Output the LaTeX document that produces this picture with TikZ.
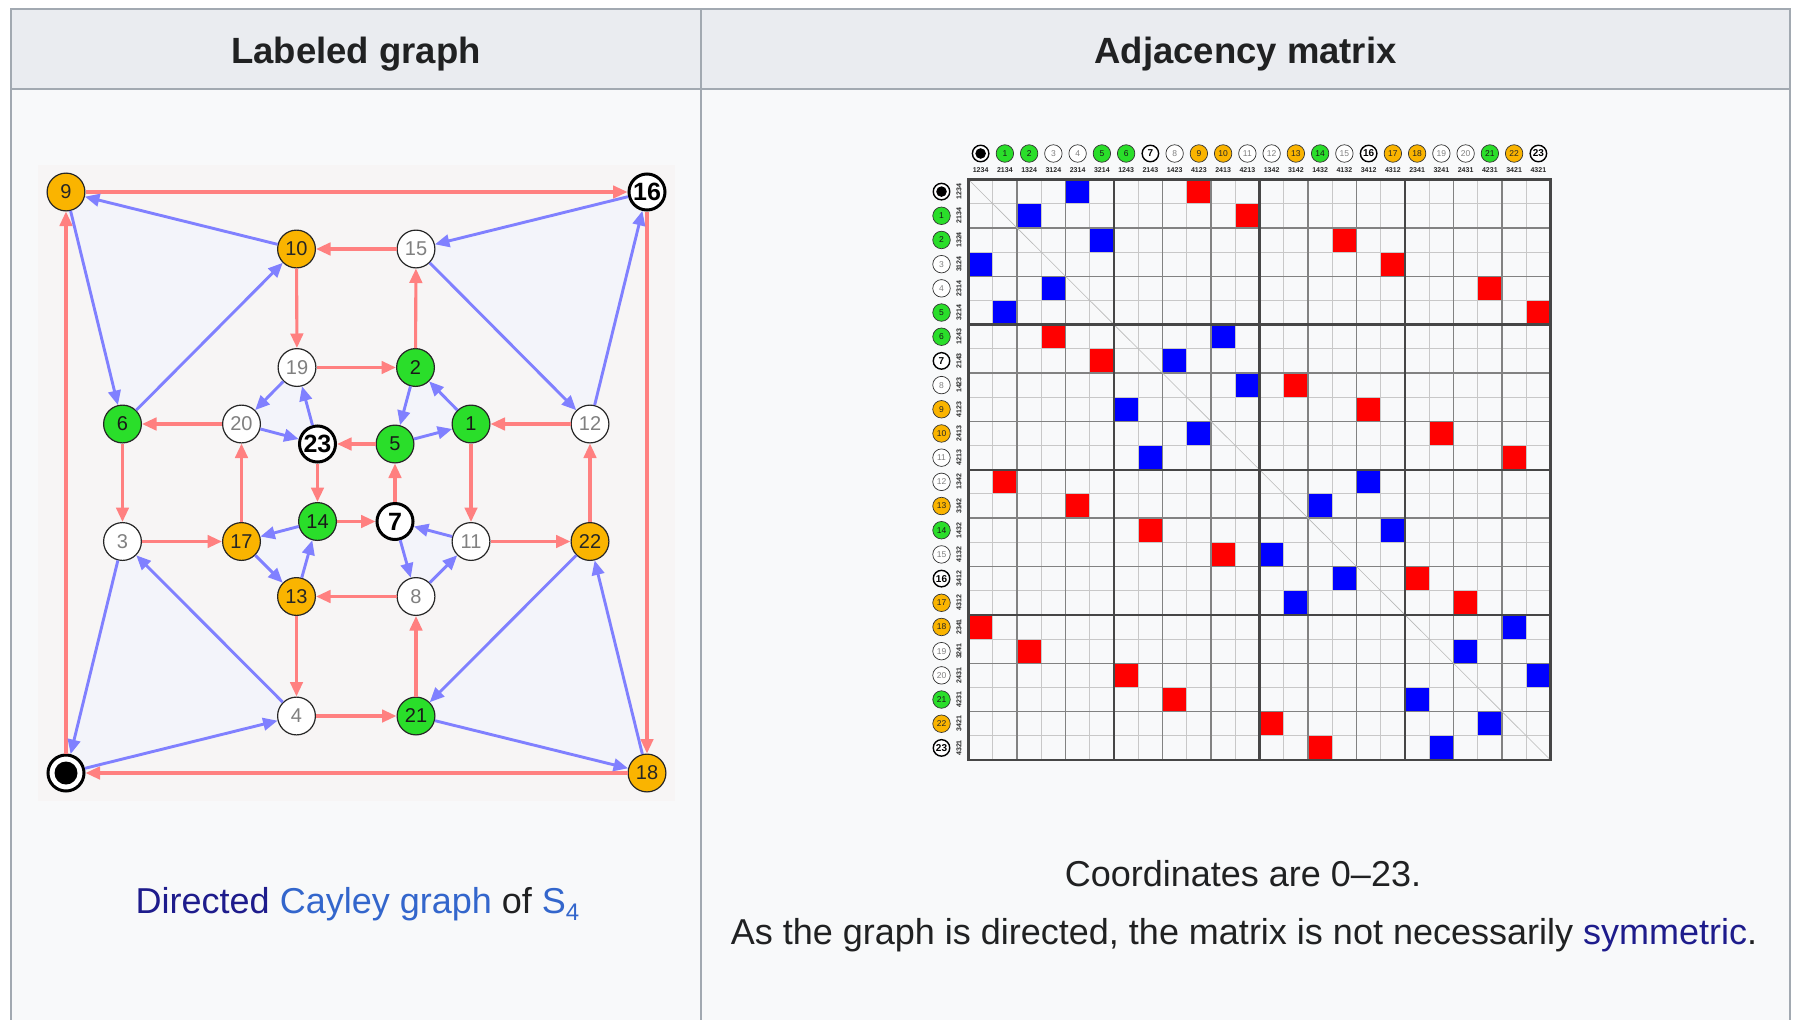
\documentclass[tikz,border=0pt]{standalone}
\usepackage{fontspec}
\setmainfont{Liberation Sans}
\usetikzlibrary{arrows.meta}
\definecolor{hdrbg}{HTML}{EAECF0}
\definecolor{bodybg}{HTML}{F8F9FA}
\definecolor{tblborder}{HTML}{A2A9B1}
\definecolor{graphbg}{RGB}{247,245,245}
\definecolor{trifill}{RGB}{243,244,250}
\definecolor{redE}{RGB}{255,128,128}
\definecolor{blueE}{RGB}{128,128,255}
\definecolor{orangeN}{RGB}{250,180,0}
\definecolor{greenN}{RGB}{42,222,42}
\definecolor{txt}{HTML}{202122}
\definecolor{linkA}{HTML}{3366CC}
\definecolor{linkV}{RGB}{30,28,140}
\definecolor{cellR}{RGB}{255,0,0}
\definecolor{cellB}{RGB}{0,0,255}
\definecolor{gridL}{RGB}{200,200,200}
\definecolor{gridM}{RGB}{130,130,130}
\definecolor{gridT}{RGB}{70,70,70}
\tikzset{
  vtx/.style={circle, draw=black!85, line width=1.2pt, minimum size=37.8pt, inner sep=0pt, font=\fontsize{20}{20}\selectfont},
  Vor/.style={vtx, fill=orangeN, text=black!85},
  Vgr/.style={vtx, fill=greenN, text=black!90},
  Vwh/.style={vtx, fill=white, text=black!50},
  Vbk/.style={vtx, fill=white, draw=black, line width=3pt, minimum size=36pt, font=\fontsize{25}{25}\bfseries\selectfont, text=black},
  Vbull/.style={vtx, fill=white, draw=black, line width=3pt, minimum size=36pt, path picture={\fill[black] (path picture bounding box.center) circle (11.5pt);}},
  svtx/.style={circle, draw=black!80, line width=0.7pt, minimum size=17.5pt, inner sep=0pt, font=\fontsize{8.5}{8.5}\selectfont},
  Sor/.style={svtx, fill=orangeN, text=black!85},
  Sgr/.style={svtx, fill=greenN, text=black!90},
  Swh/.style={svtx, fill=white, text=black!50},
  Sbk/.style={svtx, fill=white, draw=black, line width=1.4pt, minimum size=16.5pt, font=\fontsize{10}{10}\bfseries\selectfont, text=black},
  Sbull/.style={svtx, fill=white, draw=black, line width=1.4pt, minimum size=16.5pt, path picture={\fill[black] (path picture bounding box.center) circle (5.3pt);}},
  perm/.style={inner sep=0pt, font=\fontsize{7}{7}\bfseries\selectfont, text=black!85},
  redarr/.style={draw=redE, line width=3.1pt, -{Triangle[length=14.5pt,width=12.5pt]}},
  bluearr/.style={draw=blueE, line width=2.9pt, -{Triangle[length=14.5pt,width=12.5pt]}},
  hdrtext/.style={anchor=base, inner sep=0pt, text=txt, font=\fontsize{36.5}{43}\bfseries\selectfont},
  captext/.style={anchor=base, inner sep=0pt, text=txt, font=\fontsize{36}{43}\selectfont},
}
\newcommand{\mxlabel}[4]{%
  \pgfmathsetmacro\mxcx{968.5+24.25*(#1+0.5)}%
  \pgfmathsetmacro\mxcy{179.5+24.1875*(#1+0.5)}%
  \node[#2] (h#1) at (\mxcx,153.5) {#3};
  \node[perm] (hp#1) at (\mxcx,170) {#4};
  \node[#2] (r#1) at (941.5,\mxcy) {#3};
  \node[perm, rotate=90] (rp#1) at (959,\mxcy) {#4};
}
\begin{document}
\begin{tikzpicture}[x=1pt,y=-1pt]
\useasboundingbox (0,0) rectangle (1794,1020);
\fill[white] (0,0) rectangle (1794,1020);
% table
\fill[bodybg] (11,9) rectangle (1790,1020);
\fill[hdrbg] (11,9) rectangle (1790,89);
\draw[tblborder, line width=1.5pt] (11,1020) -- (11,9) -- (1790,9) -- (1790,1020);
\draw[tblborder, line width=2pt] (11,89) -- (1790,89);
\draw[tblborder, line width=1.5pt] (701,9) -- (701,1020);
\node[hdrtext] (th1) at (356,63) {Labeled graph};
\node[hdrtext] (th2) at (1245.5,63) {Adjacency matrix};
% captions
\node[captext] (cap1) at (357.5,913) {\color{linkV}Directed \color{linkA}Cayley graph \color{txt}of \color{linkA}S\raisebox{-7pt}{\fontsize{24}{24}\selectfont 4}};
\node[captext] (cap2) at (1243,886) {Coordinates are 0–23.};
\node[captext] (cap3) at (1244,944) {As the graph is directed, the matrix is not necessarily \color{linkV}symmetric\color{txt}.};
% graph
\fill[graphbg] (38,165) rectangle (675,801);
\coordinate (p0) at (66,773);
\coordinate (p9) at (66,192);
\coordinate (p16) at (647,192);
\coordinate (p18) at (647,773);
\coordinate (p10) at (296.5,249);
\coordinate (p15) at (416,249);
\coordinate (p4) at (296.5,716);
\coordinate (p21) at (416,716);
\coordinate (p6) at (122.5,424);
\coordinate (p3) at (122.5,541.5);
\coordinate (p12) at (590,424);
\coordinate (p22) at (590,541.5);
\coordinate (p19) at (297,367.5);
\coordinate (p2) at (415.5,367.5);
\coordinate (p13) at (296.5,596.5);
\coordinate (p8) at (416,596.5);
\coordinate (p20) at (241.5,424);
\coordinate (p1) at (471,424);
\coordinate (p17) at (241.5,541.5);
\coordinate (p11) at (471,541.5);
\coordinate (p23) at (317.5,444);
\coordinate (p5) at (395,444);
\coordinate (p14) at (317.5,521.5);
\coordinate (p7) at (395,521.5);
\foreach \a/\b/\c in {9/6/10,16/15/12,0/4/3,18/22/21,19/20/23,2/5/1,17/13/14,7/8/11}
  \fill[trifill] (p\a) -- (p\b) -- (p\c) -- cycle;
\node[Vbull] (n0) at (p0) {};
\node[Vgr] (n1) at (p1) {1};
\node[Vgr] (n2) at (p2) {2};
\node[Vwh] (n3) at (p3) {3};
\node[Vwh] (n4) at (p4) {4};
\node[Vgr] (n5) at (p5) {5};
\node[Vgr] (n6) at (p6) {6};
\node[Vbk] (n7) at (p7) {7};
\node[Vwh] (n8) at (p8) {8};
\node[Vor] (n9) at (p9) {9};
\node[Vor] (n10) at (p10) {10};
\node[Vwh] (n11) at (p11) {11};
\node[Vwh] (n12) at (p12) {12};
\node[Vor] (n13) at (p13) {13};
\node[Vgr] (n14) at (p14) {14};
\node[Vwh] (n15) at (p15) {15};
\node[Vbk] (n16) at (p16) {16};
\node[Vor] (n17) at (p17) {17};
\node[Vor] (n18) at (p18) {18};
\node[Vwh] (n19) at (p19) {19};
\node[Vwh] (n20) at (p20) {20};
\node[Vgr] (n21) at (p21) {21};
\node[Vor] (n22) at (p22) {22};
\node[Vbk] (n23) at (p23) {23};
\foreach \a/\b in {0/9,1/11,2/15,3/17,4/21,5/23,6/3,7/5,8/13,9/16,10/19,11/22,12/1,13/4,14/7,15/10,16/18,17/20,18/0,19/2,20/6,21/8,22/12,23/14}
  \draw[redarr] (n\a) -- (n\b);
\foreach \a/\b in {0/4,1/2,2/5,3/0,4/3,5/1,6/10,7/8,8/11,9/6,10/9,11/7,12/16,13/14,14/17,15/12,16/15,17/13,18/22,19/20,20/23,21/18,22/21,23/19}
  \draw[bluearr] (n\a) -- (n\b);
% matrix cells
\foreach \a/\b in {0/9,1/11,2/15,3/17,4/21,5/23,6/3,7/5,8/13,9/16,10/19,11/22,12/1,13/4,14/7,15/10,16/18,17/20,18/0,19/2,20/6,21/8,22/12,23/14}
  \fill[cellR] ({968.5+24.25*\b},{179.5+24.1875*\a}) rectangle +(24.25,24.1875);
\foreach \a/\b in {0/4,1/2,2/5,3/0,4/3,5/1,6/10,7/8,8/11,9/6,10/9,11/7,12/16,13/14,14/17,15/12,16/15,17/13,18/22,19/20,20/23,21/18,22/21,23/19}
  \fill[cellB] ({968.5+24.25*\b},{179.5+24.1875*\a}) rectangle +(24.25,24.1875);
% grid
\foreach \k in {1,3,...,23} {
  \draw[gridL, line width=0.9pt] ({968.5+24.25*\k},179.5) -- ({968.5+24.25*\k},760);
  \draw[gridL, line width=0.9pt] (968.5,{179.5+24.1875*\k}) -- (1550.5,{179.5+24.1875*\k});
}
\foreach \k in {2,4,8,10,14,16,20,22} {
  \draw[gridM, line width=1.3pt] ({968.5+24.25*\k},179.5) -- ({968.5+24.25*\k},760);
  \draw[gridM, line width=1.3pt] (968.5,{179.5+24.1875*\k}) -- (1550.5,{179.5+24.1875*\k});
}
\draw[gray!55, line width=0.6pt] (968.5,179.5) -- (1550.5,760);
\foreach \k in {6,12,18} {
  \draw[gridT, line width=2.3pt] ({968.5+24.25*\k},179.5) -- ({968.5+24.25*\k},760);
  \draw[gridT, line width=2.3pt] (968.5,{179.5+24.1875*\k}) -- (1550.5,{179.5+24.1875*\k});
}
\draw[gridT, line width=2.3pt] (968.5,179.5) rectangle (1550.5,760);
% matrix labels
\mxlabel{0}{Sbull}{}{1234}
\mxlabel{1}{Sgr}{1}{2134}
\mxlabel{2}{Sgr}{2}{1324}
\mxlabel{3}{Swh}{3}{3124}
\mxlabel{4}{Swh}{4}{2314}
\mxlabel{5}{Sgr}{5}{3214}
\mxlabel{6}{Sgr}{6}{1243}
\mxlabel{7}{Sbk}{7}{2143}
\mxlabel{8}{Swh}{8}{1423}
\mxlabel{9}{Sor}{9}{4123}
\mxlabel{10}{Sor}{10}{2413}
\mxlabel{11}{Swh}{11}{4213}
\mxlabel{12}{Swh}{12}{1342}
\mxlabel{13}{Sor}{13}{3142}
\mxlabel{14}{Sgr}{14}{1432}
\mxlabel{15}{Swh}{15}{4132}
\mxlabel{16}{Sbk}{16}{3412}
\mxlabel{17}{Sor}{17}{4312}
\mxlabel{18}{Sor}{18}{2341}
\mxlabel{19}{Swh}{19}{3241}
\mxlabel{20}{Swh}{20}{2431}
\mxlabel{21}{Sgr}{21}{4231}
\mxlabel{22}{Sor}{22}{3421}
\mxlabel{23}{Sbk}{23}{4321}
\end{tikzpicture}
\end{document}
